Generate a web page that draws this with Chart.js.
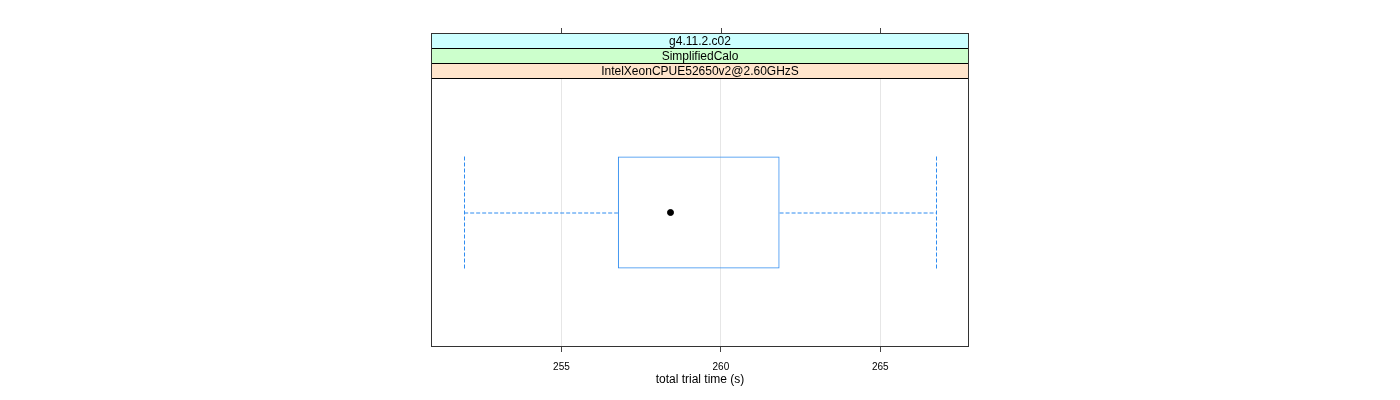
<!DOCTYPE html>
<html>
<head>
<meta charset="utf-8">
<script src="https://cdn.jsdelivr.net/npm/chart.js@4/dist/chart.umd.min.js"></script>
<style>
  html, body { margin: 0; padding: 0; background: #ffffff; }
  #wrap { width: 1400px; height: 400px; position: relative; }
</style>
</head>
<body>
<div id="wrap"><canvas id="c" width="1400" height="400"></canvas></div>
<script>
// ---- data ----
const categories = ['IntelXeonCPUE52650v2@2.60GHzS'];
const stripLabels = ['g4.11.2.c02', 'SimplifiedCalo', 'IntelXeonCPUE52650v2@2.60GHzS'];
const lowerWhisker = [251.95];
const q1 = [256.77];
const median = [258.42];
const q3 = [261.84];
const upperWhisker = [266.75];
const xTicks = [255, 260, 265];
const xTitle = 'total trial time (s)';

const FONT = '"Liberation Sans", Arial, Helvetica, sans-serif';
const BOX_COLOR = '#2f8cf0';
const STRIP_COLORS = ['#ccffff', '#ccffcc', '#ffe5cc'];

const latticePlugin = {
  id: 'lattice',
  beforeDraw(chart) {
    const ctx = chart.ctx;
    ctx.save();
    ctx.fillStyle = '#ffffff';
    ctx.fillRect(0, 0, chart.width, chart.height);
    ctx.restore();
  },
  beforeDatasetsDraw(chart) {
    // whiskers
    const ctx = chart.ctx;
    const xs = chart.scales.x;
    const ys = chart.scales.y;
    const bars = chart.getDatasetMeta(0).data;
    ctx.save();
    ctx.strokeStyle = BOX_COLOR;
    ctx.lineWidth = 1;
    ctx.setLineDash([4, 2]);
    categories.forEach((c, i) => {
      const bar = bars[i];
      const yc = ys.getPixelForValue(i);
      const half = bar.height / 2;
      const xl = xs.getPixelForValue(lowerWhisker[i]);
      const x1 = xs.getPixelForValue(q1[i]);
      const x3 = xs.getPixelForValue(q3[i]);
      const xu = xs.getPixelForValue(upperWhisker[i]);
      const yy = Math.round(yc);
      ctx.beginPath();
      ctx.moveTo(xl, yy); ctx.lineTo(x1, yy);
      ctx.moveTo(x3, yy); ctx.lineTo(xu, yy);
      ctx.moveTo(Math.round(xl) + 0.5, yc - half); ctx.lineTo(Math.round(xl) + 0.5, yc + half);
      ctx.moveTo(Math.round(xu) + 0.5, yc - half); ctx.lineTo(Math.round(xu) + 0.5, yc + half);
      ctx.stroke();
    });
    ctx.restore();
  },
  afterDraw(chart) {
    const ctx = chart.ctx;
    const a = chart.chartArea;
    const xs = chart.scales.x;
    const stripH = 15;
    const n = stripLabels.length;
    const top = a.top - n * stripH;
    ctx.save();
    // strips
    for (let i = 0; i < n; i++) {
      const y = top + i * stripH;
      ctx.fillStyle = STRIP_COLORS[i];
      ctx.fillRect(a.left, y, a.right - a.left, stripH);
      ctx.strokeStyle = '#000000';
      ctx.lineWidth = 1;
      ctx.strokeRect(a.left + 0.5, y + 0.5, a.right - a.left - 1, stripH);
      ctx.fillStyle = '#000000';
      ctx.font = '12px ' + FONT;
      ctx.textAlign = 'center';
      ctx.textBaseline = 'middle';
      ctx.fillText(stripLabels[i], (a.left + a.right) / 2, y + stripH / 2 + 1);
    }
    // top ticks
    ctx.strokeStyle = '#444444';
    ctx.beginPath();
    xTicks.forEach(t => {
      const px = Math.round(xs.getPixelForValue(t)) + 0.5;
      ctx.moveTo(px, top - 5); ctx.lineTo(px, top);
    });
    ctx.stroke();
    // panel border
    ctx.strokeStyle = '#333333';
    ctx.strokeRect(a.left + 0.5, top + 0.5, a.right - a.left - 1, a.bottom - top - 1);
    ctx.restore();
  }
};

new Chart(document.getElementById('c'), {
  type: 'bar',
  data: {
    labels: categories,
    datasets: [
      {
        type: 'bar',
        data: categories.map((c, i) => [q1[i], q3[i]]),
        backgroundColor: 'rgba(0,0,0,0)',
        borderColor: BOX_COLOR,
        borderWidth: 1,
        borderSkipped: false,
        inflateAmount: 0,
        barThickness: 112,
        order: 2
      },
      {
        type: 'scatter',
        data: categories.map((c, i) => ({ x: median[i], y: c })),
        backgroundColor: '#000000',
        borderColor: '#000000',
        pointRadius: 3,
        pointHoverRadius: 3,
        showLine: false,
        order: 1
      }
    ]
  },
  options: {
    indexAxis: 'y',
    responsive: false,
    animation: false,
    devicePixelRatio: 1,
    layout: { padding: { left: 431, right: 431, top: 78, bottom: 0 } },
    plugins: { legend: { display: false }, tooltip: { enabled: false } },
    scales: {
      x: {
        type: 'linear',
        position: 'bottom',
        min: 250.91,
        max: 267.78,
        afterBuildTicks: s => { s.ticks = xTicks.map(v => ({ value: v })); },
        afterFit: s => { s.height = 53; },
        grid: { color: '#e6e6e6', tickColor: '#444444', tickLength: 5, drawOnChartArea: true },
        border: { display: false },
        ticks: { color: '#000000', font: { family: FONT, size: 10 }, padding: 9, maxRotation: 0 },
        title: { display: true, text: xTitle, color: '#000000', font: { family: FONT, size: 12 }, padding: { top: 0, bottom: 13 } }
      },
      y: {
        type: 'category',
        display: false,
        grid: { display: false }
      }
    }
  },
  plugins: [latticePlugin]
});
</script>
</body>
</html>
